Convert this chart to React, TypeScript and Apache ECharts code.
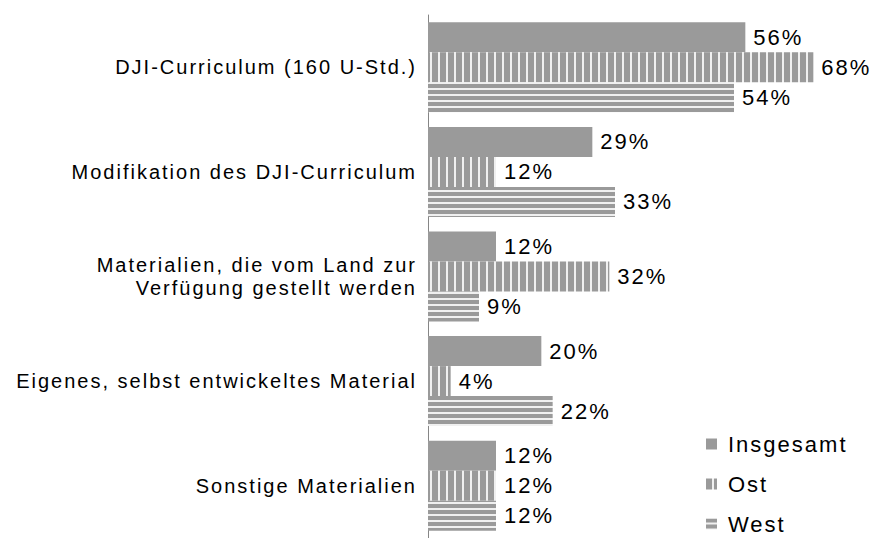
import React, { useEffect, useRef } from "react";
import * as echarts from "echarts";

const categories = [
  "DJI-Curriculum (160 U-Std.)",
  "Modifikation des DJI-Curriculum",
  "Materialien, die vom Land zur\nVerfügung gestellt werden",
  "Eigenes, selbst entwickeltes Material",
  "Sonstige Materialien",
];
const seriesNames = ["Insgesamt", "Ost", "West"];
const insgesamt = [56, 29, 12, 20, 12];
const ost = [68, 12, 32, 4, 12];
const west = [54, 33, 9, 22, 12];

const GRAY = "#9a9a9a";
const LIGHT = "#f0f0f0";

export default function App() {
  const ref = useRef<HTMLDivElement>(null);
  useEffect(() => {
    if (!ref.current) return;
    const chart = echarts.init(ref.current, undefined, { renderer: "svg" });

    const vCanvas = document.createElement("canvas");
    vCanvas.width = 8;
    vCanvas.height = 8;
    const vc = vCanvas.getContext("2d")!;
    vc.fillStyle = LIGHT;
    vc.fillRect(0, 0, 8, 8);
    vc.fillStyle = GRAY;
    vc.fillRect(0, 0, 6, 8);

    const hCanvas = document.createElement("canvas");
    hCanvas.width = 8;
    hCanvas.height = 6;
    const hc = hCanvas.getContext("2d")!;
    hc.fillStyle = LIGHT;
    hc.fillRect(0, 0, 8, 6);
    hc.fillStyle = GRAY;
    hc.fillRect(0, 0, 8, 4);

    const fills: any[] = [
      GRAY,
      { image: vCanvas, repeat: "repeat" },
      { image: hCanvas, repeat: "repeat" },
    ];
    const values = [insgesamt, ost, west];

    const labelStyle = {
      show: true,
      position: "right",
      distance: 8,
      formatter: "{c}%",
      color: "#000",
      fontSize: 22,
      fontFamily: "Liberation Sans, Arial, sans-serif",
    };

    chart.setOption({
      animation: false,
      backgroundColor: "#fff",
      grid: { left: 428, top: 15, width: 442, height: 527 },
      xAxis: { type: "value", min: 0, max: 78, show: false },
      yAxis: {
        type: "category",
        data: categories,
        inverse: true,
        axisTick: { show: false },
        axisLine: { lineStyle: { color: "#868686", width: 1 } },
        axisLabel: {
          margin: 11,
          color: "#000",
          fontSize: 20,
          lineHeight: 23,
          align: "right",
          fontFamily: "Liberation Sans, Arial, sans-serif",
        },
        splitLine: { show: false },
      },
      legend: {
        orient: "vertical",
        left: 706,
        top: 433,
        padding: 0,
        itemWidth: 11,
        itemHeight: 11,
        itemGap: 18,
        icon: "rect",
        data: seriesNames,
        textStyle: {
          color: "#000",
          fontSize: 22,
          lineHeight: 22,
          padding: [0, 0, 0, 6],
          fontFamily: "Liberation Sans, Arial, sans-serif",
        },
      },
      series: seriesNames.map((name, i) => ({
        name,
        type: "bar",
        data: values[i],
        barWidth: 30,
        barGap: "0%",
        itemStyle: { color: fills[i] },
        label: labelStyle,
      })),
    });
    return () => chart.dispose();
  }, []);

  return (
    <>
      <style>{`.chart-root text { letter-spacing: 2px; }`}</style>
      <div
        ref={ref}
        className="chart-root"
        style={{ position: "fixed", left: 0, top: 0, width: 872, height: 538 }}
      />
    </>
  );
}
